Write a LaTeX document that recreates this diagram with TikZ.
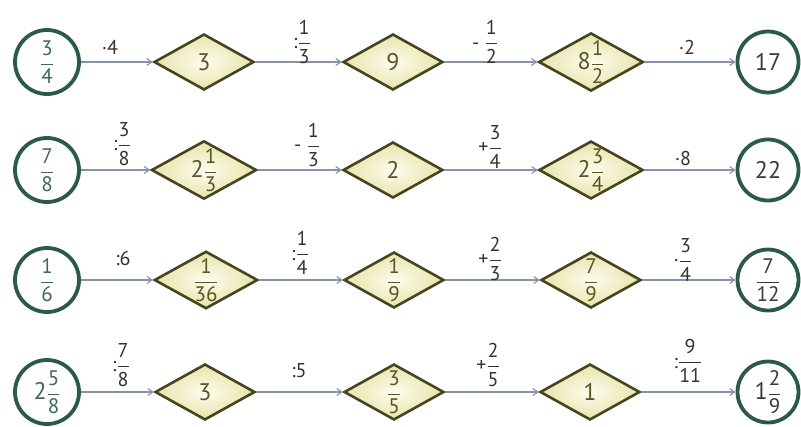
\documentclass[tikz,border=0pt]{standalone}
\usepackage{fontspec}
\usepackage{amsmath}
\setmainfont{PT Sans}
\usetikzlibrary{shapes.geometric,arrows.meta}
\definecolor{circ}{HTML}{2B5A47}
\definecolor{circtxt}{HTML}{3D6B4C}
\definecolor{rtxt}{HTML}{3A3A32}
\definecolor{dia}{HTML}{45451F}
\definecolor{diatxt}{HTML}{5B5424}
\definecolor{diain}{HTML}{FCFCEE}
\definecolor{diaout}{HTML}{E8E4AA}
\definecolor{arr}{HTML}{8593A8}
\definecolor{lab}{HTML}{333333}
\newcommand{\fr}[2]{\ensuremath{\dfrac{\text{#1}}{\text{#2}}}}
\newcommand{\nfr}[2]{{\fontsize{21}{23}\selectfont\fr{#1}{#2}}}
\begin{document}
\begin{tikzpicture}[x=1pt,y=-1pt,
  ring/.style={circle,draw=circ,line width=3.8pt,fill=white,minimum size=64pt,inner sep=0pt,font=\fontsize{24}{26}\selectfont},
  lring/.style={ring,text=circtxt},
  rring/.style={ring,minimum size=61pt,text=rtxt},
  gem/.style={diamond,draw=dia,line width=2.6pt,minimum width=100pt,minimum height=56pt,aspect=1.8,inner sep=0pt,inner color=diain,outer color=diaout,text=diatxt,font=\fontsize{24}{26}\selectfont},
  link/.style={draw=arr,line width=1.1pt,-{Straight Barb[length=5pt,width=7pt]}},
  op/.style={text=lab,font=\fontsize{20}{22}\selectfont,inner sep=0pt}]
\useasboundingbox (0,0) rectangle (801,426);
% row 1
\node[lring] (a0) at (47,62) {\nfr{3}{4}};
\node[gem] (a1) at (204,62) {3};
\node[gem] (a2) at (393,62) {9};
\node[gem] (a3) at (591,62) {8\nfr{1}{2}};
\node[rring] (a4) at (768,62) {17};
\draw[link] (a0) -- (a1);
\draw[link] (a1) -- (a2);
\draw[link] (a2) -- (a3);
\draw[link] (a3) -- (a4);
\node[op] (la1) at (110,47) {·4};
\node[op] (la2) at (302,42) {:\fr{1}{3}};
\node[op] (la3) at (485,42) {- \fr{1}{2}};
\node[op] (la4) at (687,47) {·2};
% row 2
\node[lring] (b0) at (47,170) {\nfr{7}{8}};
\node[gem] (b1) at (204,170) {2\nfr{1}{3}};
\node[gem] (b2) at (393,170) {2};
\node[gem] (b3) at (591,170) {2\nfr{3}{4}};
\node[rring] (b4) at (768,170) {22};
\draw[link] (b0) -- (b1);
\draw[link] (b1) -- (b2);
\draw[link] (b2) -- (b3);
\draw[link] (b3) -- (b4);
\node[op] (lb1) at (122,144) {:\fr{3}{8}};
\node[op] (lb2) at (307,145) {- \fr{1}{3}};
\node[op] (lb3) at (490,147) {+\fr{3}{4}};
\node[op] (lb4) at (683,158) {·8};
% row 3
\node[lring] (c0) at (47,280) {\nfr{1}{6}};
\node[gem] (c1) at (206,280) {\nfr{1}{36}};
\node[gem] (c2) at (394,280) {\nfr{1}{9}};
\node[gem] (c3) at (591,280) {\nfr{7}{9}};
\node[rring] (c4) at (768,280) {\nfr{7}{12}};
\draw[link] (c0) -- (c1);
\draw[link] (c1) -- (c2);
\draw[link] (c2) -- (c3);
\draw[link] (c3) -- (c4);
\node[op] (lc1) at (123,258) {:6};
\node[op] (lc2) at (300,253) {:\fr{1}{4}};
\node[op] (lc3) at (490,259) {+\fr{2}{3}};
\node[op] (lc4) at (683,260) {·\fr{3}{4}};
% row 4
\node[lring] (d0) at (47,392) {2\nfr{5}{8}};
\node[gem] (d1) at (205,392) {3};
\node[gem] (d2) at (394,392) {\nfr{3}{5}};
\node[gem] (d3) at (590,392) {1};
\node[rring] (d4) at (768,392) {1\nfr{2}{9}};
\draw[link] (d0) -- (d1);
\draw[link] (d1) -- (d2);
\draw[link] (d2) -- (d3);
\draw[link] (d3) -- (d4);
\node[op] (ld1) at (121,365) {:\fr{7}{8}};
\node[op] (ld2) at (299,371) {:5};
\node[op] (ld3) at (488,365) {+\fr{2}{5}};
\node[op] (ld4) at (688,361) {:\fr{9}{11}};
\end{tikzpicture}
\end{document}
